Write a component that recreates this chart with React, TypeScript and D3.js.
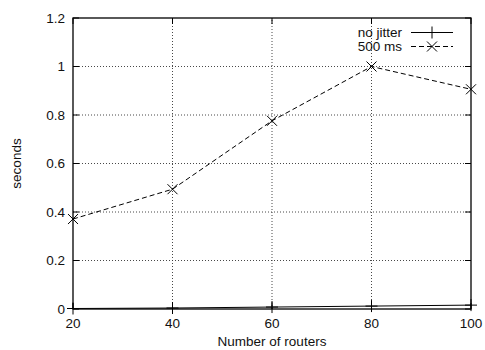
import React from "react";
import * as d3 from "d3";

// routers on the x axis
const routers = [20, 40, 60, 80, 100];
// seconds for each series
const noJitter = [0.002, 0.004, 0.008, 0.012, 0.016];
const jitter500 = [0.371, 0.494, 0.776, 1.0, 0.906];
const xTicks = [20, 40, 60, 80, 100];
const yTicks = [0, 0.2, 0.4, 0.6, 0.8, 1, 1.2];
const seriesNames = ["no jitter", "500 ms"];

export default function App() {
    const ref = React.useRef<SVGSVGElement>(null);

    React.useEffect(() => {
        drawChart();
    }, []);

    function drawChart() {
        const width = 485;
        const height = 350;
        const margin = { top: 18, right: 14, bottom: 41, left: 73 };
        const font = "'Liberation Sans', Arial, Helvetica, sans-serif";

        const svg = d3.select(ref.current);
        svg.selectAll("*").remove();

        const x = d3
            .scaleLinear()
            .domain([20, 100])
            .range([margin.left, width - margin.right]);
        const y = d3
            .scaleLinear()
            .domain([0, 1.2])
            .range([height - margin.bottom, margin.top]);

        const [x0, x1] = x.range();
        const [y0, y1] = y.range();

        // grid
        const grid = svg.append("g").attr("stroke", "#333").attr("stroke-width", 0.9).attr("stroke-dasharray", "1 2");
        xTicks.slice(1, -1).forEach((t) => {
            grid.append("line").attr("x1", x(t)).attr("x2", x(t)).attr("y1", y0).attr("y2", y1);
        });
        yTicks.slice(1, -1).forEach((t) => {
            grid.append("line").attr("x1", x0).attr("x2", x1).attr("y1", y(t)).attr("y2", y(t));
        });

        // ticks (inward, mirrored)
        const ticks = svg.append("g").attr("stroke", "#000").attr("stroke-width", 1);
        const tl = 6;
        xTicks.forEach((t) => {
            ticks.append("line").attr("x1", x(t)).attr("x2", x(t)).attr("y1", y0).attr("y2", y0 - tl);
            ticks.append("line").attr("x1", x(t)).attr("x2", x(t)).attr("y1", y1).attr("y2", y1 + tl);
        });
        yTicks.forEach((t) => {
            ticks.append("line").attr("x1", x0).attr("x2", x0 + tl).attr("y1", y(t)).attr("y2", y(t));
            ticks.append("line").attr("x1", x1).attr("x2", x1 - tl).attr("y1", y(t)).attr("y2", y(t));
        });

        // tick labels
        const labels = svg.append("g").attr("font-family", font).attr("font-size", 13.5).attr("fill", "#111");
        xTicks.forEach((t) => {
            labels.append("text").attr("x", x(t)).attr("y", y0 + 19).attr("text-anchor", "middle").text(t);
        });
        yTicks.forEach((t) => {
            labels
                .append("text")
                .attr("x", x0 - 8)
                .attr("y", y(t))
                .attr("dy", "0.35em")
                .attr("text-anchor", "end")
                .text(d3.format("~g")(t));
        });

        // axis titles
        labels
            .append("text")
            .attr("x", (x0 + x1) / 2)
            .attr("y", 346)
            .attr("text-anchor", "middle")
            .text("Number of routers");
        labels
            .append("text")
            .attr("transform", `translate(21,${(y0 + y1) / 2}) rotate(-90)`)
            .attr("text-anchor", "middle")
            .text("seconds");

        const line = d3
            .line<number>()
            .x((d, i) => x(routers[i]))
            .y((d) => y(d));

        const plus = (g: any, cx: number, cy: number) => {
            g.append("path")
                .attr("d", `M${cx - 6},${cy}H${cx + 6}M${cx},${cy - 6}V${cy + 6}`)
                .attr("stroke", "#000")
                .attr("stroke-width", 1);
        };
        const cross = (g: any, cx: number, cy: number) => {
            g.append("path")
                .attr("d", `M${cx - 5},${cy - 5}L${cx + 5},${cy + 5}M${cx - 5},${cy + 5}L${cx + 5},${cy - 5}`)
                .attr("stroke", "#000")
                .attr("stroke-width", 1);
        };

        const plot = svg.append("g");
        plot.append("path")
            .datum(noJitter)
            .attr("fill", "none")
            .attr("stroke", "#000")
            .attr("stroke-width", 1)
            .attr("d", line);
        noJitter.forEach((d, i) => plus(plot, x(routers[i]), y(d)));

        plot.append("path")
            .datum(jitter500)
            .attr("fill", "none")
            .attr("stroke", "#000")
            .attr("stroke-width", 1)
            .attr("stroke-dasharray", "5 3")
            .attr("d", line);
        jitter500.forEach((d, i) => cross(plot, x(routers[i]), y(d)));

        // border
        svg.append("rect")
            .attr("x", x0)
            .attr("y", y1)
            .attr("width", x1 - x0)
            .attr("height", y0 - y1)
            .attr("fill", "none")
            .attr("stroke", "#000")
            .attr("stroke-width", 1.3);

        // legend
        const key = svg.append("g");
        const keyX = 402;
        const sx0 = 411;
        const sx1 = 453;
        seriesNames.forEach((name, i) => {
            const ky = 32.5 + i * 14;
            key.append("text")
                .attr("x", keyX)
                .attr("y", ky)
                .attr("dy", "0.35em")
                .attr("text-anchor", "end")
                .attr("font-family", font)
                .attr("font-size", 13.5)
                .attr("fill", "#111")
                .text(name);
            key.append("line")
                .attr("x1", sx0)
                .attr("x2", sx1)
                .attr("y1", ky)
                .attr("y2", ky)
                .attr("stroke", "#000")
                .attr("stroke-width", 1)
                .attr("stroke-dasharray", i === 1 ? "5 3" : null);
            if (i === 0) plus(key, (sx0 + sx1) / 2, ky);
            else cross(key, (sx0 + sx1) / 2, ky);
        });
    }

    return (
        <svg
            ref={ref}
            width={485}
            height={350}
            style={{ position: "absolute", left: 0, top: 0, background: "#fff" }}
        />
    );
}
